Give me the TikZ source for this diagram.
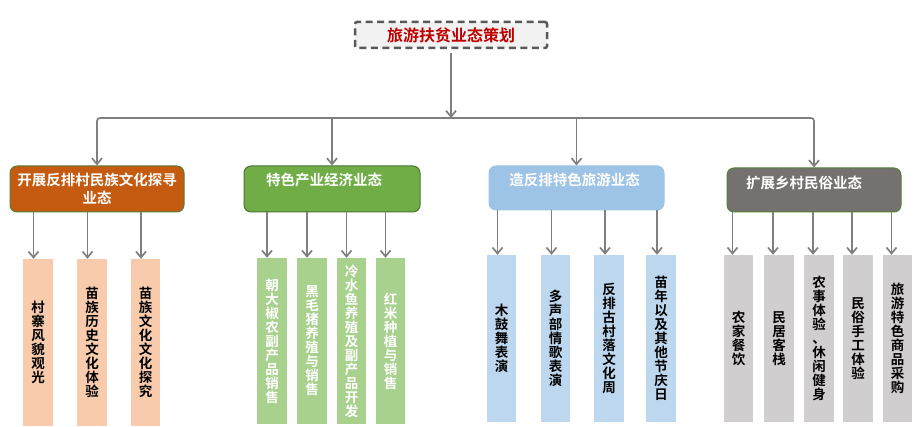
\documentclass[tikz,border=0pt]{standalone}
\usepackage{fontspec}
\newfontfamily\cjk{Noto Sans CJK SC}[BoldFont={Noto Sans CJK SC Bold}]
\usetikzlibrary{arrows.meta,positioning}

\definecolor{linegray}{HTML}{7F7F7F}
\definecolor{titlered}{HTML}{C00000}
\definecolor{titleborder}{HTML}{595959}
\definecolor{titlefill}{HTML}{F2F2F2}
\definecolor{catorange}{HTML}{C55A11}
\definecolor{catgreen}{HTML}{70AD47}
\definecolor{catblue}{HTML}{9DC3E6}
\definecolor{catgray}{HTML}{767171}
\definecolor{edgegreen}{HTML}{538135}
\definecolor{subA}{HTML}{F8CBAD}
\definecolor{subB}{HTML}{A9D18E}
\definecolor{subC}{HTML}{BDD7EE}
\definecolor{subD}{HTML}{D0CECE}

\tikzset{
  link/.style={draw=linegray, line width=1.7pt,
    -{Straight Barb[length=6pt,width=10pt,line width=1.7pt]}},
  titlebox/.style={draw=titleborder, fill=titlefill, line width=2.5pt,
    dash pattern=on 7pt off 4.5pt, rounded corners=2pt,
    minimum width=192pt, minimum height=26pt, inner sep=0pt,
    text=titlered, font=\cjk\bfseries\fontsize{16}{18}\selectfont},
  catbox/.style={line width=1pt, rounded corners=7pt, minimum height=46pt, inner sep=0pt},
  cattext/.style={text=white, align=center, inner sep=0pt,
    font=\cjk\bfseries\fontsize{14.5}{18}\selectfont},
  subbox/.style={minimum width=29.5pt, minimum height=167pt, inner sep=0pt,
    align=center, font=\cjk\bfseries\fontsize{13.5}{14}\selectfont},
}

\begin{document}
\begin{tikzpicture}[x=1pt, y=-1pt]
    \useasboundingbox (0,0) rectangle (918,427);

    % Top box
    \node[titlebox] (top) at (451,35) {旅游扶贫业态策划};
    \coordinate (hub) at (451,118);
    \draw[link, shorten <=4pt] (top.south) -- (hub);

    % Category boxes
    \node[catbox, draw=edgegreen, fill=catorange, minimum width=174pt, cattext] (c1) at (97,189) {开展反排村民族文化探寻\\业态};
    \node[catbox, draw=edgegreen!90!black, fill=catgreen, minimum width=176pt] (c2) at (332,189) {};
    \node[catbox, draw=catblue, fill=catblue, minimum width=175pt, minimum height=44pt] (c3) at (576.5,188) {};
    \node[catbox, draw=edgegreen, fill=catgray, minimum width=174pt, minimum height=44pt] (c4) at (814,190) {};
    \node[cattext] (t2) at ([xshift=-8pt, yshift=9pt]c2.center) {特色产业经济业态};
    \node[cattext] (t3) at ([xshift=-2pt, yshift=8pt]c3.center) {造反排特色旅游业态};
    \node[cattext] (t4) at ([xshift=-10pt, yshift=7pt]c4.center) {扩展乡村民俗业态};

    % Bus to the categories
    \draw[link, rounded corners=3pt] (hub) -| (c1.north);
    \draw[link, rounded corners=3pt] (hub) -| (c4.north);
    \draw[link] (c2.north |- hub) -- (c2.north);
    \draw[link] (c3.north |- hub) -- (c3.north);

    % Group 1
    \foreach \x/\t [count=\i] in {38/{村\\寨\\风\\貌\\观\\光},
        92/{苗\\族\\历\\史\\文\\化\\体\\验},
        145.5/{苗\\族\\文\\化\\文\\化\\探\\究}} {
      \node[subbox, fill=subA] (a\i) at (\x,342.5) {\t};
      \coordinate (pa\i) at ([xshift=-4.5pt]a\i.north);
      \draw[link] (pa\i |- c1.south) -- (pa\i);
    }

    % Group 2
    \foreach \x/\t [count=\i] in {272/{朝\\大\\椒\\农\\副\\产\\品\\销\\售},
        312/{黑\\毛\\猪\\养\\殖\\与\\销\\售},
        351.5/{冷\\水\\鱼\\养\\殖\\及\\副\\产\\品\\开\\发},
        390.5/{红\\米\\种\\植\\与\\销\\售}} {
      \node[subbox, fill=subB, text=white, minimum height=166pt] (b\i) at (\x,341) {\t};
      \coordinate (pb\i) at ([xshift=-5pt]b\i.north);
      \draw[link] (pb\i |- c2.south) -- (pb\i);
    }

    % Group 3
    \foreach \x/\t [count=\i] in {501.5/{木\\鼓\\舞\\表\\演},
        555.5/{多\\声\\部\\情\\歌\\表\\演},
        609/{反\\排\\古\\村\\落\\文\\化\\周},
        661/{苗\\年\\以\\及\\其\\他\\节\\庆\\日}} {
      \node[subbox, fill=subC] (d\i) at (\x,338.5) {\t};
      \coordinate (pd\i) at ([xshift=-4pt]d\i.north);
      \draw[link] (pd\i |- c3.south) -- (pd\i);
    }

    % Group 4
    \foreach \x/\t [count=\i] in {738.5/{农\\家\\餐\\饮},
        779/{民\\居\\客\\栈},
        819/{农\\事\\体\\验\\、\\休\\闲\\健\\身},
        858/{民\\俗\\手\\工\\体\\验},
        897.5/{旅\\游\\特\\色\\商\\品\\采\\购}} {
      \node[subbox, fill=subD] (e\i) at (\x,338.5) {\t};
      \coordinate (pe\i) at ([xshift=-6pt]e\i.north);
      \draw[link] (pe\i |- c4.south) -- (pe\i);
    }
\end{tikzpicture}
\end{document}
